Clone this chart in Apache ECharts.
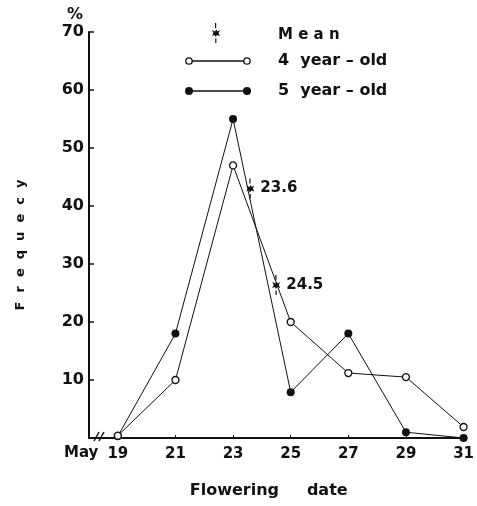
<!DOCTYPE html>
<html><head><meta charset="utf-8">
<script src="https://cdn.jsdelivr.net/npm/echarts@6/dist/echarts.min.js"></script>
<style>html,body{margin:0;padding:0;background:#fff}#c{width:477px;height:506px}</style>
</head><body><div id="c"></div>
<script>
var days = [19, 21, 23, 25, 27, 29, 31];
var fourYear = [0.4, 10, 47, 20, 11.2, 10.5, 1.9];
var fiveYear = [0.3, 18, 55, 7.9, 18, 1, 0];
var meanDates = [23.6, 24.5];
var meanHeights = [43, 26.4];
var xTicks = [19, 21, 23, 25, 27, 29, 31];
var yTicks = [10, 20, 30, 40, 50, 60, 70];

var FONT = 'DejaVu Sans';
var ink = '#111';
var chart = echarts.init(document.getElementById('c'));
var starPath = 'path://M4,0h1.2v5h-1.2z M1,7 L4,8.5 L5.5,6.5 L6.5,8.5 L9,7 L7.5,10 L9,13 L6,12 L4.6,14 L3.6,12 L1,13 L2.4,10z M4.2,15.5h1.2v4.5h-1.2z';

function pairs(xs, ys){ return xs.map(function(x,i){return [x, ys[i]];}); }

var lx = 211, ly = 23;
chart.setOption({
  animation: false,
  backgroundColor: '#fff',
  grid: {left: 89, right: 7, top: 32, bottom: 68},
  xAxis: {
    type: 'value', min: 18, max: 31.1,
    name: 'Flowering     date', nameLocation: 'middle', nameGap: 45,
    nameTextStyle: {fontFamily: FONT, fontWeight: 'bold', fontSize: 16, color: ink, padding: [0, 18, 0, 0]},
    axisLine: {show: true, lineStyle: {color: ink, width: 2}},
    axisTick: {show: true, inside: true, length: 3, customValues: xTicks, lineStyle: {color: ink}},
    splitLine: {show: false},
    axisLabel: {
      customValues: xTicks, margin: 9, hideOverlap: false, showMinLabel: true,
      fontFamily: FONT, fontWeight: 'bold', fontSize: 15, color: ink
    }
  },
  yAxis: {
    type: 'value', min: 0, max: 70,
    name: 'F  r  e  q  u  e  c  y', nameLocation: 'middle', nameGap: 62, nameRotate: 90,
    nameTextStyle: {fontFamily: FONT, fontWeight: 'bold', fontSize: 13, color: ink, padding: [0, 20, 0, 0]},
    axisLine: {show: true, lineStyle: {color: ink, width: 2}},
    axisTick: {show: true, inside: true, length: 5, customValues: yTicks, lineStyle: {color: ink, width: 1.5}},
    splitLine: {show: false},
    axisLabel: {customValues: yTicks, margin: 5, fontFamily: FONT, fontWeight: 'bold', fontSize: 16, color: ink}
  },
  series: [
    {
      name: '4 year-old', type: 'line', data: pairs(days, fourYear),
      symbol: 'circle', symbolSize: 7, z: 3,
      lineStyle: {color: ink, width: 1},
      itemStyle: {color: '#fff', borderColor: ink, borderWidth: 1.3}
    },
    {
      name: '5 year-old', type: 'line', data: pairs(days, fiveYear),
      symbol: 'circle', symbolSize: 8, z: 2,
      lineStyle: {color: ink, width: 1},
      itemStyle: {color: ink, borderColor: ink, borderWidth: 0}
    },
    {
      name: 'Mean', type: 'scatter', data: pairs(meanDates, meanHeights),
      symbol: starPath, symbolSize: [8, 20], z: 4,
      itemStyle: {color: ink, opacity: 1},
      label: {show: true, position: 'right', distance: 6,
        formatter: function(p){ return String(p.value[0]); },
        fontFamily: FONT, fontWeight: 'bold', fontSize: 15, color: ink}
    }
  ],
  graphic: [
    {type: 'text', left: 67, top: 7, style: {text: '%', font: 'bold 16px "DejaVu Sans"', fill: ink}},
    {type: 'group', children: [
      {type: 'rect', shape: {x: lx + 4, y: ly, width: 1.2, height: 5}, style: {fill: ink}},
      {type: 'polygon', shape: {points: [[lx+1,ly+7],[lx+4,ly+8.5],[lx+5.5,ly+6.5],[lx+6.5,ly+8.5],[lx+9,ly+7],[lx+7.5,ly+10],[lx+9,ly+13],[lx+6,ly+12],[lx+4.6,ly+14],[lx+3.6,ly+12],[lx+1,ly+13],[lx+2.4,ly+10]]}, style: {fill: ink}},
      {type: 'rect', shape: {x: lx + 4.2, y: ly + 15.5, width: 1.2, height: 4.5}, style: {fill: ink}},
      {type: 'text', x: 278, y: 28, style: {text: 'M e a n', font: 'bold 15px "DejaVu Sans"', fill: ink}},
      {type: 'line', shape: {x1: 189, y1: 61, x2: 247, y2: 61}, style: {stroke: ink, lineWidth: 1.3}},
      {type: 'circle', shape: {cx: 189, cy: 61, r: 3.2}, style: {fill: '#fff', stroke: ink, lineWidth: 1.3}},
      {type: 'circle', shape: {cx: 247, cy: 61, r: 3.2}, style: {fill: '#fff', stroke: ink, lineWidth: 1.3}},
      {type: 'text', x: 278, y: 53, style: {text: '4  year – old', font: 'bold 16px "DejaVu Sans"', fill: ink}},
      {type: 'line', shape: {x1: 189, y1: 91, x2: 247, y2: 91}, style: {stroke: ink, lineWidth: 1.3}},
      {type: 'circle', shape: {cx: 189, cy: 91, r: 4}, style: {fill: ink}},
      {type: 'circle', shape: {cx: 247, cy: 91, r: 4}, style: {fill: ink}},
      {type: 'text', x: 278, y: 83, style: {text: '5  year – old', font: 'bold 16px "DejaVu Sans"', fill: ink}},
      {type: 'text', x: 64, y: 446, style: {text: 'May', font: 'bold 15px "DejaVu Sans"', fill: ink}},
      {type: 'line', shape: {x1: 94, y1: 441, x2: 99, y2: 432}, style: {stroke: ink, lineWidth: 1.5}},
      {type: 'line', shape: {x1: 99, y1: 441, x2: 104, y2: 432}, style: {stroke: ink, lineWidth: 1.5}}
    ]}
  ]
});
</script></body></html>
